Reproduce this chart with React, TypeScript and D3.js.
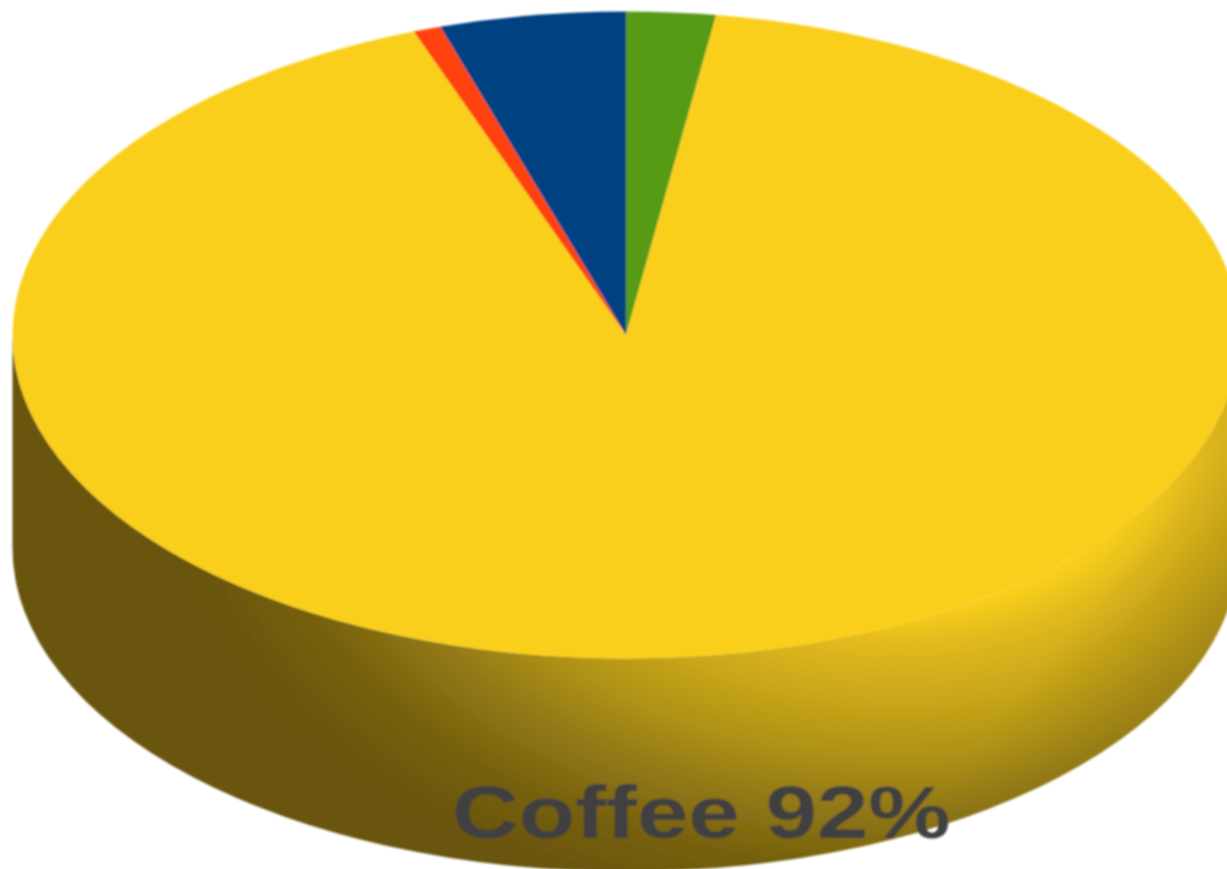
import React from "react";
import * as d3 from "d3";

const categories = ["Tea", "Coffee", "Juice", "Water"];
const values = [2.35, 92.03, 0.72, 4.9];
const colors = ["#579a18", "#f9cf1d", "#ff4210", "#004381"];
const labelText = "Coffee 92%";

const W = 1227, H = 869;
const cx = 626, cy = 335, rx = 613.5, ry = 323.5, depth = 213;

export default function App() {
  const pie = d3.pie<number>().sort(null).value((d) => d)(values);
  const arc = d3.arc<d3.PieArcDatum<number>>().innerRadius(0).outerRadius(1);
  const sidePath = `M${cx - rx},${cy} L${cx - rx},${cy + depth} A${rx},${ry} 0 0 0 ${cx + rx},${cy + depth} L${cx + rx},${cy} A${rx},${ry} 0 0 1 ${cx - rx},${cy} Z`;
  return (
    <svg width={W} height={H} viewBox={`0 0 ${W} ${H}`} style={{ position: "absolute", left: 0, top: 0, background: "#fff" }}>
      <defs>
        <radialGradient id="side" gradientUnits="userSpaceOnUse" cx={0} cy={0} r={1} gradientTransform="translate(900,450) scale(736,483)">
          <stop offset="0.33" stopColor="#f9cf1d" />
          <stop offset="0.4" stopColor="#e2ba1c" />
          <stop offset="0.52" stopColor="#c8a61a" />
          <stop offset="0.626" stopColor="#b09318" />
          <stop offset="0.74" stopColor="#937914" />
          <stop offset="0.87" stopColor="#75600f" />
          <stop offset="1" stopColor="#69540d" />
        </radialGradient>
        <linearGradient id="rim" gradientUnits="userSpaceOnUse" x1={1140} y1={540} x2={1227} y2={610}>
          <stop offset="0" stopColor="#69540d" stopOpacity={0} />
          <stop offset="1" stopColor="#69540d" stopOpacity={0.25} />
        </linearGradient>
        <filter id="soft" x="-5%" y="-5%" width="110%" height="110%">
          <feGaussianBlur stdDeviation="0.8" />
        </filter>
      </defs>
      <g filter="url(#soft)">
        <path d={sidePath} fill="url(#side)" />
        <path d={sidePath} fill="url(#rim)" />
        {pie.map((p, i) => (
          <path
            key={categories[i]}
            d={arc(p) ?? ""}
            transform={`translate(${cx},${cy}) scale(${rx},${ry})`}
            fill={colors[i]}
          />
        ))}
        <text
          transform="translate(452,838) scale(1.25,1)"
          fontFamily="Liberation Sans"
          fontWeight="bold"
          fontSize={74}
          fill="#3f3f3f"
        >
          {labelText}
        </text>
      </g>
    </svg>
  );
}
